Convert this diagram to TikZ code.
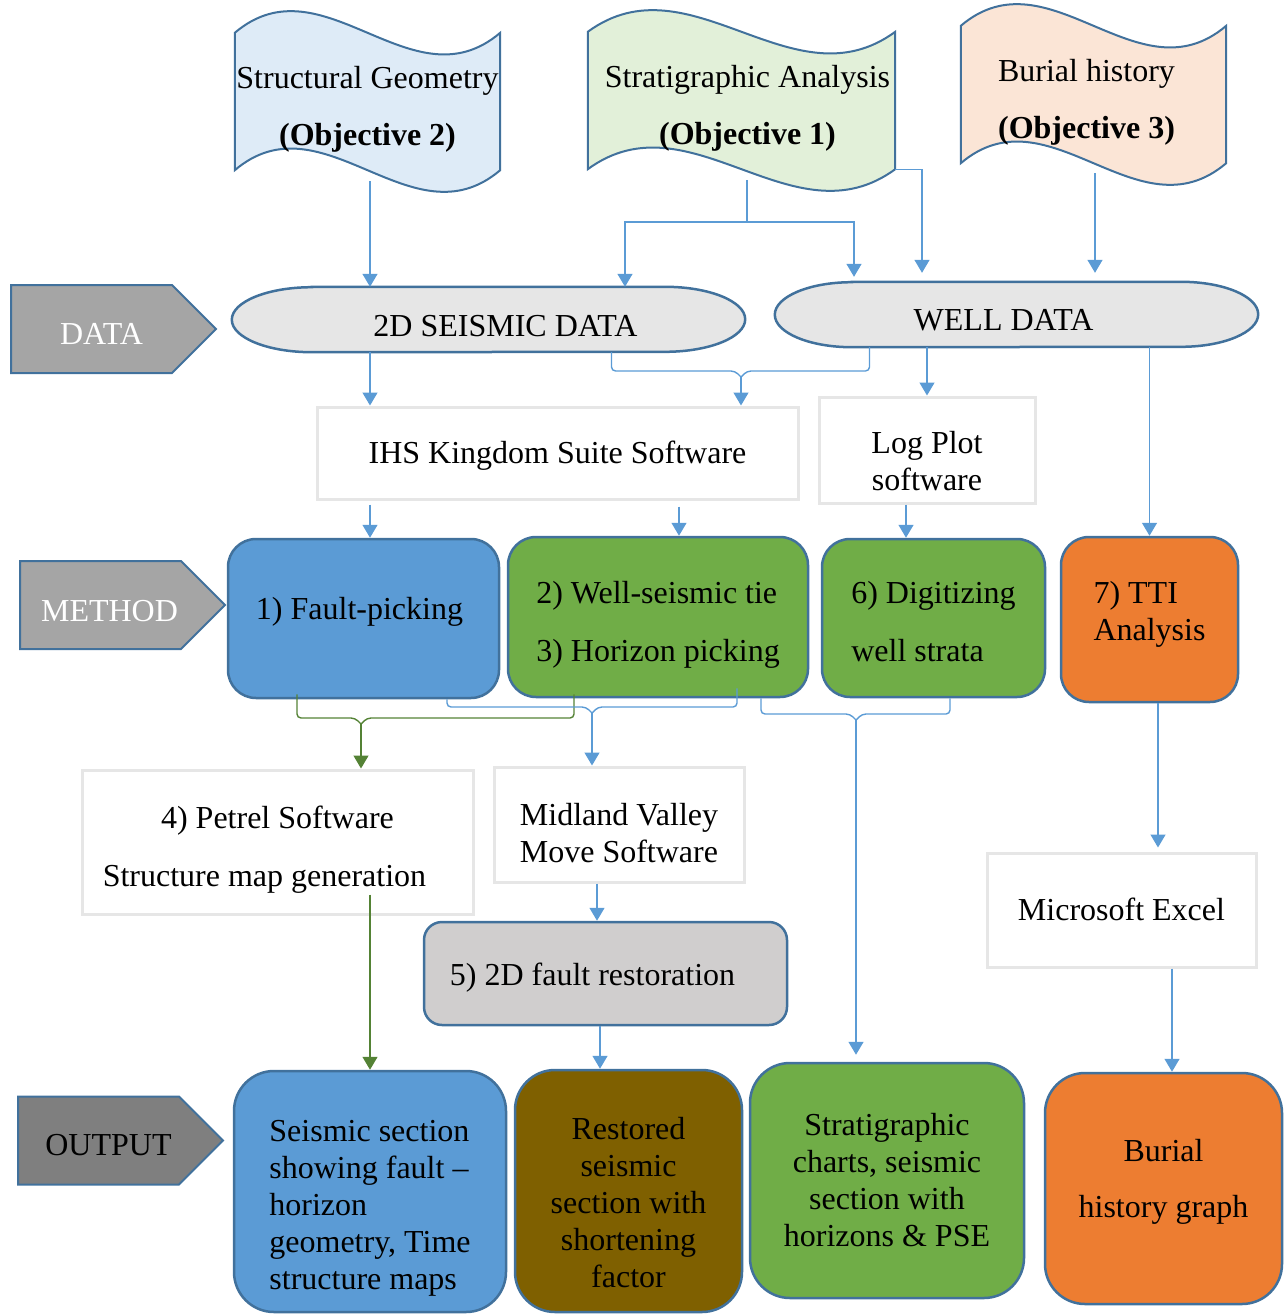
\documentclass[tikz,border=0pt]{standalone}
\usepackage{fontspec}
\setmainfont{Liberation Serif}
\usetikzlibrary{arrows.meta, positioning, shapes.symbols, backgrounds}

\definecolor{bordblue}{HTML}{41719C}
\definecolor{linkblue}{HTML}{5B9BD5}
\definecolor{linkgreen}{HTML}{548235}
\definecolor{softgray}{HTML}{E6E6E6}
\definecolor{objblue}{HTML}{DEEBF7}
\definecolor{objgreen}{HTML}{E2F0D9}
\definecolor{objpeach}{HTML}{FBE5D6}
\definecolor{termgray}{HTML}{E6E6E6}
\definecolor{stagegray}{HTML}{A5A5A5}
\definecolor{outgray}{HTML}{7F7F7F}
\definecolor{taskblue}{HTML}{5B9BD5}
\definecolor{taskgreen}{HTML}{70AD47}
\definecolor{taskorange}{HTML}{ED7D31}
\definecolor{restgray}{HTML}{D0CECE}
\definecolor{outbrown}{HTML}{7F6000}

\begin{document}
\begin{tikzpicture}[x=1pt, y=-1pt, font=\fontsize{32}{37}\selectfont]
    \tikzstyle{objective} = [minimum width=265pt, minimum height=137pt, inner sep=0pt, align=center, text height=95pt]
    \tikzstyle{docwave} = [draw=bordblue, line width=2pt]
    \tikzstyle{stage} = [signal, signal to=east, signal pointer angle=90, draw=bordblue, line width=2pt, minimum width=205pt, minimum height=88pt, inner sep=0pt, text=white]
    \tikzstyle{terminal} = [minimum height=65pt, inner sep=0pt]
    \tikzstyle{stadium} = [draw=bordblue, line width=2.5pt, fill=termgray]
    \tikzstyle{soft} = [rectangle, draw=softgray, line width=3pt, align=center, inner sep=0pt]
    \tikzstyle{task} = [rectangle, rounded corners=28pt, draw=bordblue, line width=2.5pt, align=left, inner sep=0pt]
    \tikzstyle{result} = [rectangle, rounded corners=40pt, draw=bordblue, line width=2.5pt, align=center, inner sep=0pt]
    \tikzstyle{conn} = [line width=1.4pt, draw=linkblue]
    \tikzstyle{conngreen} = [line width=1.4pt, draw=linkgreen]
    \tikzstyle{arrow} = [conn, -{Triangle[width=15pt,length=13pt]}]
    \tikzstyle{arrowgreen} = [conngreen, -{Triangle[width=15pt,length=13pt]}]

    \useasboundingbox (0,0) rectangle (1286,1314);

    % objectives
    \node (obj2) [objective] at (367.5,101.5) {Structural Geometry\\[20pt]\textbf{(Objective 2)}};
    \node (obj1) [objective, minimum width=307pt] at (741.5,100.5) {\hspace*{12pt}Stratigraphic Analysis\\[20pt]\hspace*{12pt}\textbf{(Objective 1)}};
    \node (obj3) [objective] at (1093.5,94.5) {Burial history\hspace*{14pt}\\[20pt]\textbf{(Objective 3)}\hspace*{14pt}};

    % row labels
    \node (lbldata) [stage, fill=stagegray, text height=32pt] at (91.5,329) {\hspace*{20pt}DATA};
    \node (lblmethod) [stage, fill=stagegray, text height=34pt] at (100.5,605) {\hspace*{18pt}METHOD};
    \node (lbloutput) [stage, fill=outgray, text=black, text height=30pt] at (98.5,1140.5) {\hspace*{20pt}OUTPUT};

    % data
    \node (seis) [terminal, minimum width=513pt, text height=34pt] at (488.5,319.5) {\hspace*{34pt}2D SEISMIC DATA};
    \node (well) [terminal, minimum width=483pt, text height=32pt] at (1016.5,314.5) {WELL DATA\hspace*{26pt}};

    % software
    \node (ihs) [soft, minimum width=481pt, minimum height=92pt, text height=28pt] at (557.5,453) {IHS Kingdom Suite Software};
    \node (logplot) [soft, minimum width=216pt, minimum height=106pt, text height=81pt] at (927,450) {Log Plot\\software};

    % methods
    \node (fault) [task, fill=taskblue, minimum width=271pt, minimum height=159pt, text height=8pt] at (363.5,618.5) {1) Fault-picking\hspace*{8pt}};
    \node (tie) [task, fill=taskgreen, minimum width=300pt, minimum height=160pt, text height=95pt] at (658,617) {2) Well-seismic tie\\[21pt]3) Horizon picking};
    \node (digit) [task, fill=taskgreen, minimum width=223pt, minimum height=158pt, text height=88pt] at (933.5,618) {6) Digitizing\\[21pt]well strata};
    \node (tti) [task, fill=taskorange, minimum width=177pt, minimum height=165pt, text height=49pt] at (1149.5,619.5) {7) TTI\\Analysis};

    \node (petrel) [soft, minimum width=391pt, minimum height=144pt, text height=96pt] at (277.5,842) {4) Petrel Software\\[21pt]Structure map generation\hspace*{26pt}};
    \node (move) [soft, minimum width=250pt, minimum height=115pt, text height=77pt] at (619,824.5) {Midland Valley\\Move Software};
    \node (restore) [task, rounded corners=18pt, fill=restgray, minimum width=363pt, minimum height=103pt, text height=30pt] at (605.5,973.5) {5) 2D fault restoration\hspace*{26pt}};
    \node (excel) [soft, minimum width=269pt, minimum height=114pt, text height=22pt] at (1121.5,910) {Microsoft Excel};

    % outputs
    \node (out1) [result, fill=taskblue, minimum width=272pt, minimum height=241pt, align=left, text height=203pt] at (370,1191.5) {Seismic section\\showing fault --\\horizon\\geometry, Time\\structure maps};
    \node (out2) [result, fill=outbrown, minimum width=227pt, minimum height=242pt, text height=194pt] at (628.5,1191) {Restored\\seismic\\section with\\shortening\\factor};
    \node (out3) [result, fill=taskgreen, minimum width=274pt, minimum height=235pt, text height=133pt] at (887,1180.5) {Stratigraphic\\charts, seismic\\section with\\horizons \& PSE};
    \node (out4) [result, fill=taskorange, minimum width=237pt, minimum height=231pt, text height=64pt] at (1163.5,1188.5) {Burial\\[19pt]history graph};

    \begin{scope}[on background layer]
        \foreach \n/\c/\w in {obj2/objblue/265, obj1/objgreen/307, obj3/objpeach/265}
            \draw [docwave, fill=\c] (\n.north west) .. controls +(\w/3,-75) and +(-\w/3,75) .. (\n.north east) -- (\n.south east) .. controls +(-\w/3,75) and +(\w/3,-75) .. (\n.south west) -- cycle;
        \foreach \n/\r in {seis/80, well/77}
            \draw [stadium] ([xshift=\r pt]\n.north west) -- ([xshift=-\r pt]\n.north east) arc[start angle=90, end angle=-90, x radius=\r pt, y radius=32.5pt] -- ([xshift=\r pt]\n.south west) arc[start angle=270, end angle=90, x radius=\r pt, y radius=32.5pt] -- cycle;
    \end{scope}

    % objectives to data
    \coordinate (fork) at (747,222);
    \draw [arrow, shorten <=11pt] ([xshift=2.5pt]obj2.south) -- ([xshift=2.5pt]obj2.south |- seis.north);
    \draw [conn, shorten <=11pt] ([xshift=5.5pt]obj1.south) -- (fork);
    \draw [arrow] (fork) -| ([xshift=136.5pt]seis.north);
    \draw [arrow, shorten >=5pt] (fork) -| ([xshift=-162.5pt]well.north);
    \draw [arrow, shorten >=9pt] (obj1.south east) -| ([xshift=-94.5pt]well.north);
    \draw [arrow, shorten <=10pt, shorten >=9pt] ([xshift=1.5pt]obj3.south) -- ([xshift=1.5pt]obj3.south |- well.north);

    % data to software
    \coordinate (kA) at (741,371);
    \draw [arrow] ([xshift=-118.5pt]seis.south) -- ([xshift=-118.5pt]seis.south |- ihs.north);
    \draw [conn, rounded corners=4pt] ([xshift=123pt]seis.south) |- ([xshift=-6pt]kA) -- ([yshift=-6pt]kA);
    \draw [conn, rounded corners=4pt] ([xshift=-147pt]well.south) |- ([xshift=6pt]kA) -- ([yshift=-6pt]kA);
    \draw [arrow] ([yshift=-6pt]kA) -- (kA |- ihs.north);
    \draw [arrow] (logplot.north |- well.south) -- (logplot.north);
    \draw [arrow] (tti.north |- well.south) -- (tti.north);

    % software to methods
    \draw [arrow, shorten <=4pt] ([xshift=6.5pt]fault.north |- ihs.south) -- ([xshift=6.5pt]fault.north);
    \draw [arrow, shorten <=6pt] ([xshift=21pt]tie.north |- ihs.south) -- ([xshift=21pt]tie.north);
    \draw [arrow] ([xshift=-27.5pt]digit.north |- logplot.south) -- ([xshift=-27.5pt]digit.north);

    % methods to software and outputs
    \coordinate (kB) at (361,718);
    \draw [conngreen, rounded corners=4pt] ([xshift=-66.5pt, yshift=5pt]fault.south) |- ([xshift=-6pt]kB) -- ([yshift=-6pt]kB);
    \draw [conngreen, rounded corners=4pt] ([xshift=-84pt, yshift=4pt]tie.south) |- ([xshift=6pt]kB) -- ([yshift=-6pt]kB);
    \draw [arrowgreen] ([yshift=-6pt]kB) -- (kB |- petrel.north);

    \coordinate (kC) at (592,707);
    \draw [conn, rounded corners=4pt] ([xshift=83.5pt]fault.south) |- ([xshift=-6pt]kC) -- ([yshift=-6pt]kC);
    \draw [conn, rounded corners=4pt] ([xshift=79pt, yshift=10pt]tie.south) |- ([xshift=6pt]kC) -- ([yshift=-6pt]kC);
    \draw [arrow] ([yshift=-6pt]kC) -- (kC |- move.north);

    \coordinate (kD) at (856,714);
    \draw [conn, rounded corners=4pt] ([xshift=103pt]tie.south) |- ([xshift=-6pt]kD) -- ([yshift=-6pt]kD);
    \draw [conn, rounded corners=4pt] ([xshift=16.5pt]digit.south) |- ([xshift=6pt]kD) -- ([yshift=-6pt]kD);
    \draw [arrow, shorten >=7pt] ([yshift=-6pt]kD) -- (kD |- out3.north);

    \draw [arrow, shorten >=4pt] ([xshift=8.5pt]tti.south) -- ([xshift=8.5pt]tti.south |- excel.north);
    \draw [arrow] ([xshift=50.5pt]excel.south) -- ([xshift=50.5pt]excel.south |- out4.north);
    \draw [arrowgreen] ([yshift=21pt]out1.north |- petrel.south) -- (out1.north);
    \draw [arrow] ([xshift=-22pt]move.south) -- ([xshift=-22pt]move.south |- restore.north);
    \draw [arrow] ([xshift=-28.5pt]out2.north |- restore.south) -- ([xshift=-28.5pt]out2.north);
\end{tikzpicture}
\end{document}
